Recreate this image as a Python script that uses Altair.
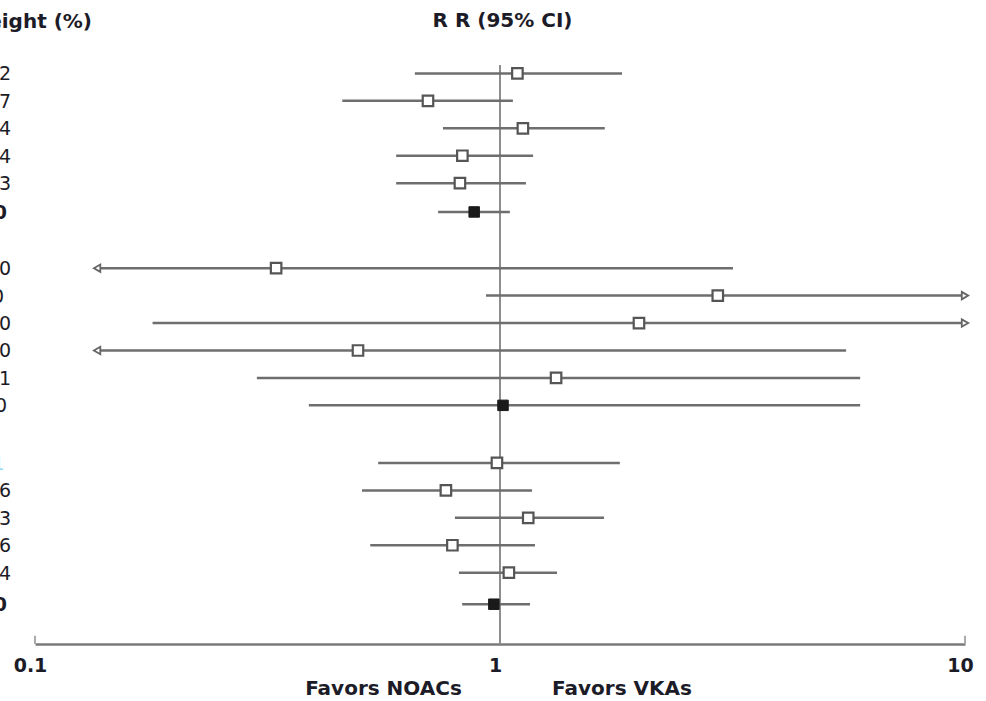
import altair as alt
import pandas as pd

# ---- data ----
rows = [0, 1, 2, 3, 4, 5.05, 7.1, 8.1, 9.1, 10.1, 11.1, 12.1,
        14.2, 15.2, 16.2, 17.2, 18.2, 19.35]
rr = [1.09, 0.70, 1.12, 0.83, 0.82, 0.88,
      0.33, 2.94, 1.99, 0.495, 1.32, 1.015,
      0.985, 0.765, 1.15, 0.79, 1.045, 0.97]
ci_lo = [0.656, 0.458, 0.754, 0.598, 0.598, 0.736,
         0.136, 0.933, 0.179, 0.136, 0.300, 0.388,
         0.547, 0.505, 0.80, 0.526, 0.816, 0.829]
ci_hi = [1.83, 1.066, 1.68, 1.178, 1.137, 1.05,
         3.17, 10.0, 10.0, 5.55, 5.95, 5.95,
         1.81, 1.172, 1.674, 1.189, 1.326, 1.16]
kind = ["study"] * 5 + ["pooled"] + ["study"] * 5 + ["pooled"] + ["study"] * 5 + ["pooled"]
arrow = ["", "", "", "", "", "",
         "left", "right", "right", "left", "", "",
         "", "", "", "", "", ""]
weights = ["23.2", "14.7", "22.4", "20.4", "19.3", "100.0",
           "18.0", "10.0", "20.0", "29.0", "23.1", "100.0",
           "18.1", "18.6", "21.3", "17.6", "24.4", "100.0"]
wstyle = ["normal"] * 5 + ["bold"] + ["normal", "shifted", "normal", "normal", "normal", "plain0"] + \
         ["cyan"] + ["normal"] * 4 + ["bold"]

x_ticks = [0.1, 1, 10]
end_ticks = [0.1, 10]
ref_value = [1]

df = pd.DataFrame({"row": rows, "rr": rr, "lo": ci_lo, "hi": ci_hi, "kind": kind,
                   "arrow": arrow, "weight": weights, "wstyle": wstyle})

FONT = "DejaVu Sans"
TXT = "#1c1c28"
LINE = "#6e6e6e"

xscale = alt.Scale(type="log", domain=[0.1, 10], nice=False)
yscale = alt.Scale(domain=[-1, 20.8], reverse=True, nice=False, zero=False)

xaxis = alt.Axis(values=x_ticks, labelExpr="datum.value < 0.5 ? '0.1' : (datum.value < 5 ? '1' : '10')",
                 grid=False, ticks=False, tickSize=0, domainColor="#7a7a7a", domainWidth=2.5,
                 labelFont=FONT, labelFontSize=19, labelFontWeight="bold", labelColor=TXT,
                 labelPadding=12, labelOffset=-5, labelFlush=False, labelOverlap=False, title=None)

base = alt.Chart(df)

ref = alt.Chart(pd.DataFrame({"x": ref_value, "y0": [-0.31], "y1": [20.8]})).mark_rule(
    color="#8e8e8e", strokeWidth=2
).encode(
    x=alt.X("x:Q", scale=xscale, axis=xaxis),
    y=alt.Y("y0:Q", scale=yscale, axis=None),
    y2="y1:Q",
)

endticks = alt.Chart(pd.DataFrame({"x": end_ticks, "y0": [20.5, 20.5], "y1": [20.8, 20.8]})).mark_rule(
    color="#aaaaaa", strokeWidth=2
).encode(
    x=alt.X("x:Q", scale=xscale, axis=xaxis),
    y=alt.Y("y0:Q", scale=yscale, axis=None),
    y2="y1:Q",
)

ci = base.mark_rule(color=LINE, strokeWidth=2.5).encode(
    x=alt.X("lo:Q", scale=xscale, axis=xaxis),
    x2="hi:Q",
    y=alt.Y("row:Q", scale=yscale, axis=None),
)

left_arrows = base.transform_filter("datum.arrow == 'left'").mark_point(
    shape="triangle-left", filled=True, fill="white", stroke="#666666", strokeWidth=1.8, size=55, opacity=1
).encode(
    x=alt.X("lo:Q", scale=xscale, axis=xaxis),
    y=alt.Y("row:Q", scale=yscale, axis=None),
)

right_arrows = base.transform_filter("datum.arrow == 'right'").mark_point(
    shape="triangle-right", filled=True, fill="white", stroke="#666666", strokeWidth=1.8, size=55, opacity=1
).encode(
    x=alt.X("hi:Q", scale=xscale, axis=xaxis),
    y=alt.Y("row:Q", scale=yscale, axis=None),
)

study_pts = base.transform_filter("datum.kind == 'study'").mark_point(
    shape="square", filled=True, fill="white", stroke="#555555", strokeWidth=2.2, size=110, opacity=1
).encode(
    x=alt.X("rr:Q", scale=xscale, axis=xaxis),
    y=alt.Y("row:Q", scale=yscale, axis=None),
)

pooled_pts = base.transform_filter("datum.kind == 'pooled'").mark_point(
    shape="square", filled=True, fill="#1a1a1a", stroke="#1a1a1a", strokeWidth=1, size=110, opacity=1
).encode(
    x=alt.X("rr:Q", scale=xscale, axis=xaxis),
    y=alt.Y("row:Q", scale=yscale, axis=None),
)

w_normal = base.transform_filter("datum.wstyle == 'normal'").mark_text(
    align="right", baseline="middle", font=FONT, fontSize=19, color=TXT, dy=1
).encode(x=alt.value(-24), y=alt.Y("row:Q", scale=yscale, axis=None), text="weight:N")

w_shift = base.transform_filter("datum.wstyle == 'shifted'").mark_text(
    align="right", baseline="middle", font=FONT, fontSize=19, color=TXT, dy=1
).encode(x=alt.value(-31), y=alt.Y("row:Q", scale=yscale, axis=None), text="weight:N")

w_bold = base.transform_filter("datum.wstyle == 'bold'").mark_text(
    align="right", baseline="middle", font=FONT, fontSize=19, fontWeight="bold", color=TXT, dy=1
).encode(x=alt.value(-28), y=alt.Y("row:Q", scale=yscale, axis=None), text="weight:N")

w_plain0 = base.transform_filter("datum.wstyle == 'plain0'").mark_text(
    align="right", baseline="middle", font=FONT, fontSize=19, color=TXT, dy=1
).encode(x=alt.value(-28), y=alt.Y("row:Q", scale=yscale, axis=None), text="weight:N")

w_cyan = base.transform_filter("datum.wstyle == 'cyan'").mark_text(
    align="right", baseline="middle", font=FONT, fontSize=19, color="#8fdcf2", dy=1
).encode(x=alt.value(-30.5), y=alt.Y("row:Q", scale=yscale, axis=None), text="weight:N")

header_rr = alt.Chart(pd.DataFrame({"label": ["R R (95% CI)"]})).mark_text(
    align="center", baseline="alphabetic", font=FONT, fontSize=20, fontWeight="bold", color=TXT
).encode(x=alt.value(467.5), y=alt.value(-19.5), text="label:N")

header_w = alt.Chart(pd.DataFrame({"label": ["Weight (%)"]})).mark_text(
    align="right", baseline="alphabetic", font=FONT, fontSize=20, fontWeight="bold", color=TXT
).encode(x=alt.value(57), y=alt.value(-18.5), text="label:N")

fav_n = alt.Chart(pd.DataFrame({"label": ["Favors NOACs"]})).mark_text(
    align="center", baseline="alphabetic", font=FONT, fontSize=20, fontWeight="bold", color=TXT
).encode(x=alt.value(348.5), y=alt.value(649), text="label:N")

fav_v = alt.Chart(pd.DataFrame({"label": ["Favors VKAs"]})).mark_text(
    align="center", baseline="alphabetic", font=FONT, fontSize=20, fontWeight="bold", color=TXT
).encode(x=alt.value(587), y=alt.value(649), text="label:N")

chart = alt.layer(
    ref, endticks, ci, left_arrows, right_arrows, study_pts, pooled_pts,
    w_normal, w_shift, w_bold, w_plain0, w_cyan, header_rr, header_w, fav_n, fav_v
).properties(
    width=930, height=598,
    background="white",
    autosize=alt.AutoSizeParams(type="none"),
    padding={"left": 35, "top": 46, "right": 21, "bottom": 57},
).configure_view(stroke=None)

chart.save("out.html", embed_options={"renderer": "svg", "actions": False})
